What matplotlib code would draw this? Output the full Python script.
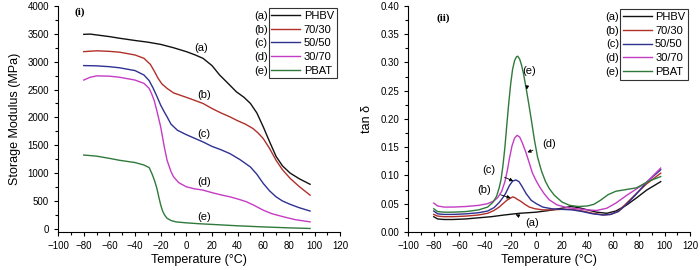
import numpy as np
import matplotlib
matplotlib.use('Agg')
import matplotlib.pyplot as plt

plt.rcParams['font.family'] = ['Liberation Sans', 'DejaVu Sans']

names = ['PHBV', '70/30', '50/50', '30/70', 'PBAT']
tags = ['(a)', '(b)', '(c)', '(d)', '(e)']
colors = ['#111111', '#b0302a', '#2e3190', '#c43cc4', '#2f7a3a']

# storage modulus (MPa) vs temperature
sm_a_t = [-80, -75, -70, -60, -52, -40, -30, -20, -10, 0, 7, 13, 20, 26, 33, 39, 45, 50, 55, 60, 65, 70, 75, 81, 88, 96.5]
sm_a = [3490, 3495, 3480, 3450, 3420, 3380, 3350, 3310, 3250, 3180, 3120, 3060, 2930, 2760, 2600, 2460, 2360, 2250, 2080, 1830, 1560, 1300, 1130, 1000, 900, 800]
sm_b_t = [-80, -70, -60, -52, -40, -33, -28, -25, -22, -19, -15, -10, -5, 0, 6, 13, 20, 27, 34, 40, 46, 52, 56, 60, 65, 70, 75, 81, 88, 96.5]
sm_b = [3180, 3195, 3185, 3170, 3120, 3060, 2950, 2830, 2700, 2600, 2520, 2440, 2400, 2360, 2310, 2250, 2160, 2080, 2010, 1940, 1880, 1800, 1720, 1620, 1440, 1230, 1060, 905, 760, 605]
sm_c_t = [-80, -70, -60, -52, -40, -33, -29, -26, -23, -20, -17, -15, -12, -7, 0, 6, 13, 20, 27, 34, 42, 50, 55, 60, 65, 70, 75, 81, 88, 96.5]
sm_c = [2930, 2925, 2910, 2890, 2840, 2760, 2660, 2530, 2380, 2220, 2090, 2010, 1880, 1770, 1690, 1630, 1560, 1480, 1420, 1350, 1240, 1110, 980, 815, 680, 575, 500, 440, 380, 320]
sm_d_t = [-80, -75, -70, -60, -52, -40, -33, -29, -27, -25, -23, -20, -17, -15, -12, -10, -6, 0, 6, 13, 20, 27, 34, 41, 47, 53, 60, 67, 76, 85, 96.5]
sm_d = [2670, 2720, 2745, 2740, 2720, 2670, 2610, 2520, 2420, 2300, 2120, 1830, 1450, 1230, 1030, 935, 830, 755, 720, 695, 650, 610, 575, 530, 485, 420, 335, 270, 215, 165, 126]
sm_e_t = [-80, -70, -60, -52, -40, -33, -29, -27, -25, -23, -21.5, -20, -18.5, -17, -15, -12, -8, 0, 10, 20, 40, 60, 80, 96.5]
sm_e = [1325, 1305, 1265, 1230, 1190, 1145, 1100, 1000, 880, 730, 575, 430, 320, 250, 190, 150, 125, 108, 92, 80, 55, 35, 18, 7]

# tan delta vs temperature
td_a_t = [-80, -77, -72, -65, -55, -45, -35, -25, -13, 0, 10, 20, 27, 33, 40, 47, 55, 62, 70, 78, 86, 97]
td_a = [0.027, 0.023, 0.022, 0.022, 0.023, 0.025, 0.027, 0.030, 0.033, 0.035, 0.038, 0.042, 0.045, 0.043, 0.039, 0.035, 0.033, 0.037, 0.047, 0.060, 0.074, 0.089]
td_b_t = [-80, -77, -72, -65, -55, -45, -38, -33, -29, -26, -23, -20, -18.5, -17, -15, -12, -9, -5.5, -1, 5, 12, 20, 28, 36, 44, 52, 58, 64, 70, 78, 86, 97]
td_b = [0.031, 0.028, 0.027, 0.027, 0.028, 0.030, 0.033, 0.038, 0.044, 0.050, 0.056, 0.060, 0.062, 0.061, 0.058, 0.054, 0.049, 0.044, 0.041, 0.039, 0.039, 0.040, 0.040, 0.037, 0.033, 0.030, 0.031, 0.037, 0.050, 0.068, 0.085, 0.104]
td_c_t = [-80, -77, -72, -65, -55, -45, -38, -33, -29, -26, -24, -21, -18.5, -16, -13.5, -11, -8, -4, 0, 5, 12, 20, 28, 36, 44, 52, 58, 64, 70, 78, 86, 97]
td_c = [0.037, 0.032, 0.031, 0.031, 0.032, 0.034, 0.037, 0.043, 0.052, 0.061, 0.068, 0.082, 0.090, 0.092, 0.089, 0.080, 0.068, 0.056, 0.050, 0.044, 0.041, 0.040, 0.039, 0.036, 0.032, 0.030, 0.031, 0.036, 0.048, 0.067, 0.088, 0.110]
td_d_t = [-80, -77, -72, -65, -55, -45, -38, -33, -30, -27, -24.5, -22.5, -21, -19, -17, -15, -13, -11, -8, -5.5, -3, 0, 2.5, 6, 10, 16, 24, 32, 40, 47, 55, 62, 70, 78, 86, 97]
td_d = [0.051, 0.046, 0.044, 0.044, 0.045, 0.047, 0.050, 0.055, 0.061, 0.072, 0.089, 0.110, 0.130, 0.152, 0.166, 0.171, 0.168, 0.158, 0.140, 0.122, 0.104, 0.090, 0.080, 0.068, 0.057, 0.048, 0.043, 0.041, 0.039, 0.038, 0.042, 0.051, 0.064, 0.076, 0.088, 0.113]
td_e_t = [-80, -77, -72, -65, -55, -45, -38, -34, -31, -29, -27.5, -26, -24.5, -23, -21.5, -20, -18.5, -17, -15.5, -14.5, -13, -11.5, -10, -8, -6, -4, -1.5, 1, 4, 7, 10, 14, 20, 26, 33, 40, 45, 50, 56, 62, 70, 78, 88, 97]
td_e = [0.041, 0.036, 0.035, 0.035, 0.036, 0.039, 0.044, 0.052, 0.063, 0.078, 0.093, 0.118, 0.150, 0.190, 0.228, 0.262, 0.288, 0.303, 0.310, 0.311, 0.306, 0.295, 0.280, 0.255, 0.228, 0.200, 0.163, 0.132, 0.108, 0.090, 0.077, 0.065, 0.053, 0.047, 0.045, 0.046, 0.049, 0.056, 0.066, 0.072, 0.075, 0.078, 0.090, 0.098]

sm = [(sm_a_t, sm_a), (sm_b_t, sm_b), (sm_c_t, sm_c), (sm_d_t, sm_d), (sm_e_t, sm_e)]
td = [(td_a_t, td_a), (td_b_t, td_b), (td_c_t, td_c), (td_d_t, td_d), (td_e_t, td_e)]

# label positions
sm_lab = [(11.5, 3240), (14, 2400), (14, 1710), (14, 845), (14, 215)]
td_lab = [(-3, 0.016), (-40.5, 0.075), (-37, 0.109), (10, 0.155), (-5.5, 0.284)]
td_tip = [(-16, 0.031), (-20, 0.060), (-18, 0.090), (-7, 0.141), (-7.5, 0.252)]

fig = plt.figure(figsize=(7, 2.7), dpi=100)
ax1 = fig.add_axes([0.083, 0.141, 0.403, 0.837])
ax2 = fig.add_axes([0.583, 0.141, 0.403, 0.837])


def style(ax):
  ax.spines['top'].set_visible(False)
  ax.spines['right'].set_visible(False)
  ax.tick_params(direction='out', labelsize=7, length=3, width=0.8)
  ax.tick_params(which='minor', direction='out', length=2, width=0.8)
  ax.set_xlim(-100, 120)
  ax.set_xticks(np.arange(-100, 121, 20))
  ax.set_xticks(np.arange(-90, 120, 20), minor=True)
  ax.set_xlabel('Temperature (\u00b0C)', fontsize=9, labelpad=2)


for i in range(5):
  ax1.plot(sm[i][0], sm[i][1], color=colors[i], lw=1, label=names[i])
  ax1.text(sm_lab[i][0], sm_lab[i][1], tags[i], fontsize=8, ha='center', va='center')
style(ax1)
ax1.set_ylim(-55, 4000)
ax1.set_yticks(np.arange(0, 4001, 500))
ax1.set_yticks(np.arange(250, 4000, 500), minor=True)
ax1.set_ylabel('Storage Modulus (MPa)', fontsize=9, labelpad=5)
ax1.text(-87.5, 3890, '(i)', fontsize=8, fontweight='bold', family='Liberation Serif', va='center')

for i in range(5):
  ax2.plot(td[i][0], td[i][1], color=colors[i], lw=1, label=names[i])
  ax2.annotate(tags[i], xy=td_tip[i], xytext=td_lab[i], fontsize=8, ha='center', va='center',
               arrowprops=dict(arrowstyle='-|>', lw=0.6, color='k', mutation_scale=5, shrinkA=5, shrinkB=0))
style(ax2)
ax2.set_ylim(0, 0.4)
ax2.set_yticks(np.arange(0, 0.401, 0.05))
ax2.set_yticks(np.arange(0.025, 0.4, 0.05), minor=True)
ax2.yaxis.set_major_formatter(matplotlib.ticker.FormatStrFormatter('%.2f'))
ax2.set_ylabel('tan \u03b4', fontsize=9, labelpad=5)
ax2.text(-78, 0.378, '(ii)', fontsize=8, fontweight='bold', family='Liberation Serif', va='center')

legs = []
for ax, pos in [(ax1, (0.995, 1.0)), (ax2, (1.0, 0.995))]:
  leg = ax.legend(loc='upper right', bbox_to_anchor=pos, fontsize=8, frameon=True, fancybox=False,
                  edgecolor='#333333', framealpha=1, handlelength=2.6, handletextpad=0.3,
                  labelspacing=0.33, borderpad=0.25, borderaxespad=0.2)
  leg.get_frame().set_linewidth(0.8)
  legs.append((ax, leg))

fig.canvas.draw()
for ax, leg in legs:
  fbox = leg.get_frame().get_window_extent()
  for j, t in enumerate(leg.get_texts()):
    tb = t.get_window_extent()
    yc = (tb.y0 + tb.y1) / 2
    fig.text((fbox.x0 - 1) / fig.bbox.width, yc / fig.bbox.height, tags[j], fontsize=8,
             ha='right', va='center')

fig.savefig('out.png', dpi=100)
